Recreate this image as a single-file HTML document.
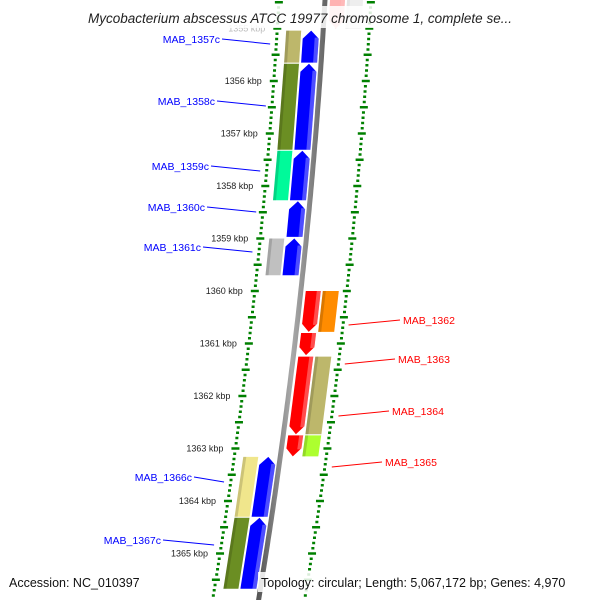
<!DOCTYPE html>
<html><head><meta charset="utf-8"><style>
html,body{margin:0;padding:0;background:#fff}
svg{display:block}
text{font-family:"Liberation Sans","DejaVu Sans",sans-serif}
</style></head><body>
<svg id="map" width="600" height="600" viewBox="0 0 600 600" xmlns="http://www.w3.org/2000/svg">
<defs>
<linearGradient id="bb" x1="0" x2="1" y1="0" y2="0"><stop offset="0" stop-color="#555"/><stop offset="0.5" stop-color="#aaa"/><stop offset="1" stop-color="#666"/></linearGradient>
</defs>
<g id="tracks"></g>
<rect x="55" y="6" width="490" height="22" fill="#fff" opacity="0.85"/>
<text x="300" y="23" text-anchor="middle" font-size="13.5" font-style="italic" fill="#222">Mycobacterium abscessus ATCC 19977 chromosome 1, complete se...</text>
<rect x="4" y="572" width="142" height="20" fill="#fff" opacity="0.85"/>
<text x="9" y="587" font-size="12.5" fill="#111">Accession: NC_010397</text>
<rect x="258" y="572" width="338" height="20" fill="#fff" opacity="0.85"/>
<text x="261" y="587" font-size="12.5" fill="#111">Topology: circular; Length: 5,067,172 bp; Genes: 4,970</text>
</svg>
<script>
const tickKbp = [1355,1356,1357,1358,1359,1360,1361,1362,1363,1364,1365];
const geneNames = ["MAB_1357c","MAB_1358c","MAB_1359c","MAB_1360c","MAB_1361c","MAB_1366c","MAB_1367c","MAB_1362","MAB_1363","MAB_1364","MAB_1365","MAB_1356"];
const geneStart = [1355.04,1355.67,1357.33,1358.29,1359.0,1363.16,1364.32,1360.0,1360.8,1361.25,1362.75,1354.4];
const geneEnd   = [1355.65,1357.31,1358.27,1358.97,1359.7,1364.3,1365.67,1360.78,1361.22,1362.73,1363.15,1355.0];
const geneStrand = [-1,-1,-1,-1,-1,-1,-1,1,1,1,1,1];
const geneColor = ["#bdb76b","#6b8e23","#00fa9a",null,"#c0c0c0","#f0e68c","#6b8e23","#ff8c00",null,"#bdb76b","#adff2f","#c8c8c8"];
const labelPos = [[220,40],[215,102],[209,167],[205,208],[201,248],[192,478],[161,541],[403,321],[398,360],[392,412],[385,463]];

const NS="http://www.w3.org/2000/svg";
const g=document.getElementById('tracks');
function bx(y){return 325-0.0571*y-0.0000893*y*y;}
function ky(k){return 81+(k-1356)*52.5;}
function el(t,a){const e=document.createElementNS(NS,t);for(const k in a)e.setAttribute(k,a[k]);g.appendChild(e);return e;}
// backbone
let bp=[];for(let y=-5;y<=605;y+=5)bp.push((bx(y)).toFixed(1)+","+y);
const bb=el('polyline',{points:bp.join(' '),fill:'none',stroke:'url(#bb)','stroke-width':5});

// dotted scale tracks
for(const side of [-46,46]){
  for(let k=1354.4;k<=1365.8;k+=0.1){
    const y=ky(k);if(y<-5||y>605)continue;
    const r=Math.round(k*10)/10; const big=Math.abs(r-Math.round(r))<0.01, half=Math.abs(r*2-Math.round(r*2))<0.01;
    const w=big||half?8:3;
    const x=bx(y)+side;
    const t=el('line',{x1:x-w/2,y1:y,x2:x+w/2,y2:y,stroke:'#008000','stroke-width':2.5});
    
  }
}
tickKbp.forEach(k=>{const y=ky(k);
  const t=el('text',{x:bx(y)-58,y:y+3,'text-anchor':'end','font-size':9,fill:k===1355?'#bbb':'#222'});
  t.textContent=k+' kbp';
  });
// genes
function band(o1,o2,y1,y2,arrow,dir){
  // polygon following the curve, with optional arrowhead
  const pts=[];const ah=8;
  let a=y1,b=y2;
  if(arrow&&dir<0)a=y1+ah; if(arrow&&dir>0)b=y2-ah;
  pts.push([bx(a)+o1,a]);
  if(arrow&&dir<0){pts.push([bx(y1)+(o1+o2)/2,y1]);}
  pts.push([bx(a)+o2,a]);
  pts.push([bx(b)+o2,b]);
  if(arrow&&dir>0){pts.push([bx(y2)+(o1+o2)/2,y2]);}
  pts.push([bx(b)+o1,b]);
  return pts.map(p=>p[0].toFixed(1)+','+p[1].toFixed(1)).join(' ');
}
geneNames.forEach((n,i)=>{
  const y1=ky(geneStart[i]),y2=ky(geneEnd[i]),s=geneStrand[i];
  const op=i===11?0.3:1;
  const cds=s<0?[-20,-4]:[5,20];
  const c=el('polygon',{points:band(cds[0],cds[1],y1,y2,true,s<0?-1:1),fill:s<0?'#0000ff':'#ff0000',opacity:op});
  
  const sh=el('polygon',{points:band(cds[1]-4,cds[1],y1+(s<0?7:0),y2-(s>0?7:0),false),fill:'#fff',opacity:0.3*op});
  
  if(geneColor[i]){
    const gb=s<0?[-37,-22]:[22,38];
    const b=el('polygon',{points:band(gb[0],gb[1],y1,y2,false),fill:geneColor[i],opacity:op});
    
    const d=el('polygon',{points:band(gb[0],gb[0]+3,y1,y2,false),fill:'#000',opacity:0.15*op});
    
  }
  if(i<labelPos.length){
    const [lx,ly]=labelPos[i];const my=(y1+y2)/2;
    const ex=s<0?bx(my)-52:bx(my)+50;
    const ln=el('line',{x1:s<0?lx+2:lx-3,y1:ly-1,x2:ex,y2:ly+4,stroke:s<0?'#0000ff':'#ff0000','stroke-width':1});
    
    const t=el('text',{x:lx,y:ly+3,'text-anchor':s<0?'end':'start','font-size':10.5,fill:s<0?'#0000ff':'#ff0000'});
    t.textContent=n;
    
  }
});
</script>
</body></html>
